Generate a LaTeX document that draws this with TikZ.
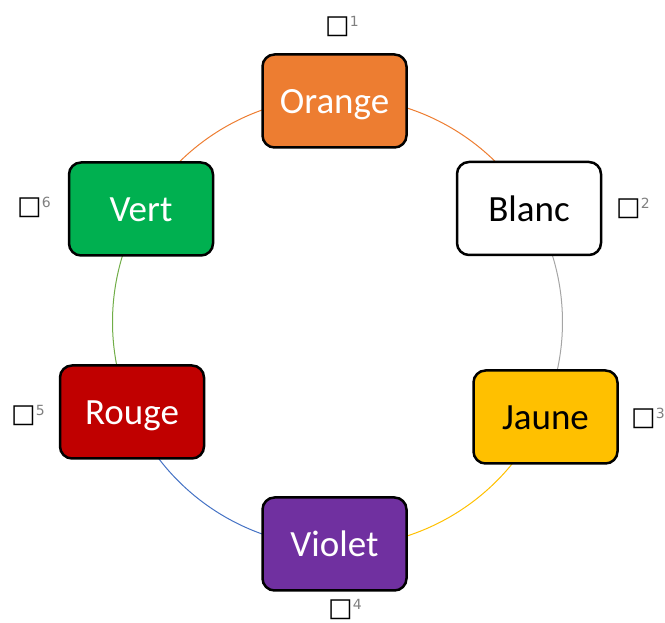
\documentclass[tikz,border=0pt]{standalone}
\usepackage{fontspec}
\setmainfont{Carlito}
\newfontfamily\symfont{DejaVu Sans}
\usetikzlibrary{calc}
\definecolor{cOrange}{HTML}{ED7D31}
\definecolor{cJaune}{HTML}{FFC000}
\definecolor{cViolet}{HTML}{7030A0}
\definecolor{cRouge}{HTML}{C00000}
\definecolor{cVert}{HTML}{00B050}
\definecolor{lGray}{HTML}{A5A5A5}
\definecolor{lBlue}{HTML}{4472C4}
\definecolor{lGreen}{HTML}{70AD47}
\definecolor{supGray}{HTML}{808080}
\tikzset{
  colbox/.style={draw=black, line width=2.5pt, rounded corners=12pt,
    minimum width=144pt, minimum height=93pt, inner sep=0pt,
    text height=32pt, text depth=6pt,
    font=\fontsize{37}{44}\selectfont},
  marklabel/.style={inner sep=0pt, font=\symfont\fontsize{26}{30}\selectfont},
  arcline/.style={line width=1pt}
}
\newcommand{\mk}[1]{□\raisebox{7pt}{\fontsize{14}{16}\selectfont\color{supGray}#1}}
\begin{document}
\begin{tikzpicture}[x=1pt,y=1pt]
\useasboundingbox (0,0) rectangle (665,623);
\coordinate (C) at (337.5,301);
% arcs
\draw[arcline, cOrange] (C) ++(150:225) arc[start angle=150, end angle=90, radius=225];
\draw[arcline, cOrange] (C) ++(90:225) arc[start angle=90, end angle=31, radius=225];
\draw[arcline, lGray] (C) ++(31:225) arc[start angle=31, end angle=-24.6, radius=225];
\draw[arcline, cJaune] (C) ++(-24.6:225) arc[start angle=-24.6, end angle=-90, radius=225];
\draw[arcline, lBlue] (C) ++(-90:225) arc[start angle=-90, end angle=-156, radius=225];
\draw[arcline, lGreen] (C) ++(204:225) arc[start angle=204, end angle=150, radius=225];
% boxes
\node[colbox, fill=cOrange, text=white] (orange) at (334.5,522) {Orange};
\node[colbox, fill=white, text=black] (blanc) at (529,414.5) {Blanc};
\node[colbox, fill=cJaune, text=black] (jaune) at (545.5,206) {Jaune};
\node[colbox, fill=cViolet, text=white] (violet) at (334.5,79) {Violet};
\node[colbox, fill=cRouge, text=white] (rouge) at (132,211) {Rouge};
\node[colbox, fill=cVert, text=white] (vert) at (141,414) {Vert};
% marks
\node[marklabel, anchor=west] (m1) at (325,596) {\mk{1}};
\node[marklabel, anchor=west] (m2) at (616,415) {\mk{2}};
\node[marklabel, anchor=west] (m3) at (631,205) {\mk{3}};
\node[marklabel, anchor=west] (m4) at (328,13) {\mk{4}};
\node[marklabel, anchor=west] (m5) at (11,207) {\mk{5}};
\node[marklabel, anchor=west] (m6) at (17,416) {\mk{6}};
\end{tikzpicture}
\end{document}
